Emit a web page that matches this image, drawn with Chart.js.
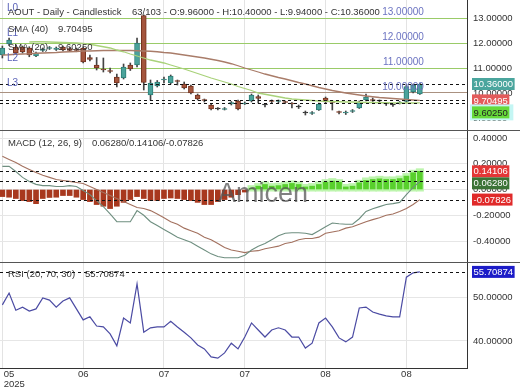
<!DOCTYPE html>
<html>
<head>
<meta charset="utf-8">
<title>AOUT - Daily - Candlestick</title>
<script src="https://cdn.jsdelivr.net/npm/chart.js@4.4.1/dist/chart.umd.min.js"></script>
<style>
  html, body { margin: 0; padding: 0; background: #fff; }
  #wrap { position: relative; width: 520px; height: 390px; overflow: hidden; }
  .panel { position: absolute; left: 0; width: 520px; }
  #pricePanel { top: 0; height: 130px; border-bottom: 1px solid #555; }
  #macdPanel { top: 131px; height: 131px; border-bottom: 1px solid #555; }
  #rsiPanel { top: 263px; height: 127px; }
</style>
</head>
<body>
<div id="wrap">
  <div class="panel" id="pricePanel"><canvas id="priceChart"></canvas></div>
  <div class="panel" id="macdPanel"><canvas id="macdChart"></canvas></div>
  <div class="panel" id="rsiPanel"><canvas id="rsiChart"></canvas></div>
</div>
<script>
// daily candles (63 of 103 bars)
const candleOpen = [11.52, 11.96, 11.84, 11.84, 11.80, 11.48, 11.70, 11.78, 11.74, 11.84,
  11.78, 11.72, 11.80, 11.42, 11.12, 10.96, 10.88, 10.64, 10.60, 11.12,
  11.12, 13.10, 9.92, 10.28, 10.52, 10.40, 10.48, 10.36, 10.28, 9.92,
  9.72, 9.52, 9.36, 9.34, 9.56, 9.68, 9.56, 9.68, 9.86, 9.52,
  9.68, 9.66, 9.64, 9.58, 9.44, 9.20, 9.18, 9.32, 9.80, 9.64,
  9.24, 9.20, 9.26, 9.40, 9.72, 9.74, 9.68, 9.56, 9.52, 9.60,
  9.66, 10.04, 9.96];
const candleHigh = [11.88, 12.20, 11.90, 11.88, 11.85, 11.64, 11.80, 11.86, 11.84, 11.88,
  11.82, 11.80, 11.84, 11.52, 11.42, 11.40, 11.00, 10.76, 11.16, 11.20,
  12.20, 13.12, 10.52, 10.50, 10.64, 10.72, 10.52, 10.44, 10.32, 9.96,
  9.76, 9.56, 9.42, 9.42, 9.66, 9.72, 9.64, 9.96, 9.92, 9.58,
  9.72, 9.72, 9.68, 9.62, 9.52, 9.28, 9.26, 9.60, 9.84, 9.70,
  9.28, 9.28, 9.34, 9.68, 9.96, 9.80, 9.72, 9.62, 9.56, 9.66,
  10.34, 10.36, 10.40];
const candleLow = [11.40, 11.90, 11.55, 11.60, 11.45, 11.45, 11.66, 11.74, 11.70, 11.68,
  11.66, 11.65, 11.20, 11.28, 10.92, 10.84, 10.80, 10.24, 10.56, 10.90,
  11.04, 10.12, 9.72, 10.24, 10.40, 10.36, 10.32, 10.16, 9.96, 9.72,
  9.64, 9.32, 9.32, 9.32, 9.52, 9.32, 9.54, 9.64, 9.60, 9.44,
  9.60, 9.60, 9.58, 9.40, 9.38, 9.12, 9.14, 9.30, 9.60, 9.32,
  9.16, 9.14, 9.22, 9.38, 9.68, 9.66, 9.60, 9.50, 9.46, 9.56,
  9.62, 10.00, 9.94];
const candleClose = [11.80, 12.12, 11.60, 11.64, 11.52, 11.60, 11.76, 11.82, 11.80, 11.72,
  11.70, 11.70, 11.24, 11.34, 11.00, 10.92, 10.86, 10.40, 11.04, 10.96,
  12.00, 10.42, 10.40, 10.44, 10.54, 10.68, 10.46, 10.20, 10.00, 9.76,
  9.70, 9.36, 9.36, 9.36, 9.62, 9.36, 9.60, 9.92, 9.78, 9.52,
  9.66, 9.68, 9.62, 9.56, 9.44, 9.20, 9.20, 9.56, 9.64, 9.62,
  9.22, 9.22, 9.30, 9.64, 9.84, 9.70, 9.68, 9.56, 9.52, 9.64,
  10.26, 10.32, 10.36];
const barTotal = 103;

const sma40 = [11.52, 11.53, 11.55, 11.56, 11.57, 11.59, 11.60, 11.61, 11.62, 11.64,
  11.65, 11.66, 11.68, 11.68, 11.69, 11.70, 11.70, 11.70, 11.70, 11.70,
  11.69, 11.68, 11.67, 11.65, 11.62, 11.60, 11.56, 11.52, 11.48, 11.44,
  11.40, 11.35, 11.30, 11.24, 11.17, 11.09, 11.00, 10.92, 10.84, 10.76,
  10.69, 10.62, 10.56, 10.49, 10.42, 10.36, 10.29, 10.22, 10.16, 10.10,
  10.05, 10.00, 9.96, 9.92, 9.88, 9.85, 9.82, 9.80, 9.78, 9.76,
  9.74, 9.72, 9.70495];
const sma20 = [null, null, null, null, 12.04, 12.05, 12.05, 12.04, 12.03, 12.02,
  12.01, 12.00, 11.98, 11.95, 11.90, 11.85, 11.80, 11.72, 11.65, 11.56,
  11.48, 11.40, 11.32, 11.26, 11.20, 11.12, 11.04, 10.96, 10.87, 10.78,
  10.69, 10.60, 10.52, 10.44, 10.36, 10.26, 10.18, 10.10, 10.00, 9.95,
  9.90, 9.85, 9.80, 9.76, 9.74, 9.72, 9.70, 9.68, 9.67, 9.66,
  9.65, 9.64, 9.64, 9.63, 9.62, 9.62, 9.61, 9.61, 9.60, 9.60,
  9.60, 9.60, 9.6025];

const macdLine = [0.18, 0.18, 0.14, 0.094, 0.063, 0.04, 0.03, 0.03, 0.023, 0.023,
  0.03, 0.023, -0.008, -0.04, -0.086, -0.133, -0.19, -0.25, -0.25, -0.25,
  -0.164, -0.20, -0.25, -0.28, -0.31, -0.34, -0.37, -0.39, -0.41, -0.44,
  -0.47, -0.50, -0.52, -0.53, -0.53, -0.53, -0.51, -0.47, -0.44, -0.42,
  -0.39, -0.36, -0.34, -0.336, -0.336, -0.34, -0.35, -0.32, -0.29, -0.26,
  -0.266, -0.27, -0.27, -0.227, -0.17, -0.15, -0.133, -0.117, -0.11, -0.10,
  -0.04, 0.016, 0.0628];
const macdSignal = [0.258, 0.234, 0.21, 0.18, 0.156, 0.133, 0.11, 0.094, 0.078, 0.07,
  0.063, 0.055, 0.047, 0.023, 0.0, -0.023, -0.047, -0.07, -0.094, -0.117,
  -0.14, -0.148, -0.164, -0.19, -0.22, -0.25, -0.27, -0.30, -0.32, -0.34,
  -0.37, -0.39, -0.42, -0.45, -0.47, -0.48, -0.49, -0.48, -0.475, -0.46,
  -0.45, -0.44, -0.42, -0.41, -0.39, -0.38, -0.38, -0.37, -0.34, -0.33,
  -0.32, -0.30, -0.29, -0.27, -0.25, -0.234, -0.22, -0.20, -0.19, -0.17,
  -0.148, -0.117, -0.07826];
const macdHist = [-0.055, -0.06, -0.07, -0.086, -0.094, -0.11, -0.07, -0.062, -0.06, -0.047,
  -0.047, -0.06, -0.078, -0.094, -0.117, -0.13, -0.148, -0.13, -0.10, -0.078,
  -0.055, -0.07, -0.086, -0.086, -0.07, -0.066, -0.07, -0.078, -0.086, -0.10,
  -0.117, -0.117, -0.094, -0.078, -0.06, -0.04, -0.02, 0.01, 0.026, 0.039,
  0.026, 0.030, 0.039, 0.047, 0.039, 0.020, 0.026, 0.039, 0.057, 0.065,
  0.057, 0.020, 0.026, 0.052, 0.070, 0.078, 0.083, 0.078, 0.078, 0.085,
  0.104, 0.130, 0.14106];

const rsi20 = [48.2, 50.9, 47.0, 47.7, 46.8, 47.3, 49.8, 49.3, 47.7, 49.1,
  49.8, 47.3, 44.8, 45.5, 43.4, 43.2, 41.6, 38.9, 45.2, 44.1,
  53.0, 42.0, 43.0, 43.2, 43.2, 44.5, 43.2, 42.0, 40.7, 39.1,
  38.2, 36.4, 36.1, 37.3, 39.5, 38.2, 40.9, 44.1, 42.5, 40.9,
  42.5, 43.0, 42.5, 40.9, 40.9, 38.4, 39.5, 44.1, 45.2, 43.2,
  40.7, 39.8, 40.9, 47.5, 47.7, 46.6, 46.1, 45.7, 45.5, 45.5,
  54.5, 55.5, 55.70874];

const xTickIdx = [0, 12, 24, 36, 48, 60];
const xTickLabels = ['05', '06', '07', '07', '08', '08'];
const xTickYear = '2025';

const priceLevels = [13, 12, 11, 10];
const priceLevelTags = ['L0', 'L1', 'L2', 'L3'];
const watermark = 'Amicen';

const FONT = '"Liberation Sans", Arial, sans-serif';
Chart.defaults.font.family = FONT;
Chart.defaults.animation = false;

const last = candleOpen.length - 1;
const fmt = v => Number(v).toFixed(5);
const xy = arr => arr.map((v, i) => ({ x: i, y: v }));

function candleColor(i, up, down, flat) {
  if (candleClose[i] > candleOpen[i]) return up;
  if (candleClose[i] < candleOpen[i]) return down;
  return flat;
}

function xAxis(withLabels) {
  return {
    type: 'linear', min: -0.35, max: 69, offset: false,
    afterBuildTicks: axis => { axis.ticks = xTickIdx.map(v => ({ value: v })); },
    grid: { color: '#e3e3e3', drawTicks: false, offset: false },
    border: { display: withLabels, color: '#333' },
    ticks: {
      display: withLabels, padding: 1, color: '#333', maxRotation: 0, autoSkip: false,
      font: { size: 9.5, lineHeight: 1.1 },
      callback: v => {
        const k = xTickIdx.indexOf(v);
        if (k < 0) return null;
        // first label hugs the left edge
        if (k === 0) return ['     ' + xTickLabels[0], '         ' + xTickYear];
        return xTickLabels[k];
      }
    },
    afterFit: s => { s.paddingLeft = 0; s.paddingRight = 0; s.height = withLabels ? 22 : 0; }
  };
}

function yAxis(min, max, step, gridColor) {
  return {
    position: 'right', min, max,
    ticks: { stepSize: step, includeBounds: false, padding: 6, color: '#333', font: { size: 9.5 }, callback: v => fmt(v) },
    grid: { color: gridColor, drawTicks: false },
    border: { color: '#333' },
    afterFit: s => { s.width = 53; s.paddingTop = 0; s.paddingBottom = 0; }
  };
}

function baseOptions(xs, ys) {
  return {
    responsive: true, maintainAspectRatio: false, animation: false,
    layout: { padding: 0 },
    plugins: { legend: { display: false }, tooltip: { enabled: false } },
    scales: { x: xs, y: ys }
  };
}

function dashedLines(chart, values) {
  const { ctx, chartArea: a } = chart, y = chart.scales.y;
  ctx.save();
  ctx.setLineDash([3, 3]);
  ctx.strokeStyle = '#111';
  ctx.lineWidth = 1;
  values.forEach(v => {
    const py = Math.round(y.getPixelForValue(v)) + 0.5;
    ctx.beginPath(); ctx.moveTo(a.left, py); ctx.lineTo(a.right, py); ctx.stroke();
  });
  ctx.restore();
}

function valueBoxes(chart, boxes) {
  const { ctx, chartArea: a } = chart, y = chart.scales.y;
  ctx.save();
  ctx.font = '9.5px ' + FONT;
  ctx.textBaseline = 'middle';
  ctx.textAlign = 'left';
  let prevBottom = -Infinity;
  boxes.map(b => ({ ...b, py: y.getPixelForValue(b.value) }))
    .sort((p, q) => p.py - q.py)
    .forEach(b => {
      const top = Math.max(b.py - 6, prevBottom);
      const text = fmt(b.value);
      const w = ctx.measureText(text).width + 3;
      if (b.halo) { ctx.fillStyle = b.halo; ctx.fillRect(a.right + 3, top - 2, w + 6, 16); }
      ctx.fillStyle = b.bg;
      ctx.fillRect(a.right + 5, top, w, 12);
      ctx.fillStyle = b.fg;
      ctx.fillText(text, a.right + 6.5, top + 6.5);
      prevBottom = top + 12;
    });
  ctx.restore();
}

function legendLine(ctx, label, value, x, y) {
  ctx.fillText(label, x, y);
  ctx.fillText(value, x + ctx.measureText(label).width + 10, y);
}

/* === PRICE PANEL === */
const pricePlugin = {
  id: 'priceOverlay',
  afterDraw(chart) {
    const { ctx, chartArea: a } = chart, x = chart.scales.x, y = chart.scales.y;
    dashedLines(chart, [candleClose[last], sma40[last], sma20[last]]);
    ctx.save();
    ctx.textBaseline = 'middle';
    ctx.font = '10px ' + FONT;
    priceLevels.forEach((v, k) => {
      const py = y.getPixelForValue(v);
      ctx.textAlign = 'right';
      ctx.fillStyle = '#6b73c1';
      ctx.fillText(fmt(v), x.getPixelForValue(62.6), py - 6);
      ctx.textAlign = 'left';
      ctx.fillStyle = '#5a62b8';
      ctx.fillText(priceLevelTags[k], a.left + 7, py - 10);
    });
    ctx.fillStyle = '#333';
    ctx.font = '9.5px ' + FONT;
    const title = 'AOUT - Daily - Candlestick    ' + candleOpen.length + '/' + barTotal +
      ' - O:' + fmt(candleOpen[last]) + ' - H:' + fmt(candleHigh[last]) +
      ' - L:' + fmt(candleLow[last]) + ' - C:' + fmt(candleClose[last]);
    ctx.fillText(title, 8, 12);
    legendLine(ctx, 'SMA (40)', fmt(sma40[last]), 8, 29);
    legendLine(ctx, 'SMA (20)', fmt(sma20[last]), 8, 47);
    ctx.restore();
    valueBoxes(chart, [
      { value: candleClose[last], bg: '#4aa59d', fg: '#fff' },
      { value: sma40[last], bg: '#e35b5b', fg: '#fff' },
      { value: sma20[last], bg: '#66d93a', fg: '#222', halo: '#c4f6f4' }
    ]);
  }
};

const priceGrid = c => {
  const v = c.tick.value;
  if (v === 10) return '#aa9180';
  return priceLevels.includes(v) ? '#9acb68' : 'rgba(0,0,0,0)';
};

new Chart(document.getElementById('priceChart'), {
  type: 'bar',
  data: {
    datasets: [
      { type: 'line', data: xy(sma20), borderColor: '#a9d27a', borderWidth: 1.3, pointRadius: 0 },
      { type: 'line', data: xy(sma40), borderColor: '#a97c69', borderWidth: 1.3, pointRadius: 0 },
      {
        data: candleOpen.map((o, i) => ({ x: i, y: [o, candleClose[i]] })),
        grouped: false, barThickness: 5, minBarLength: 1, borderWidth: 1, borderSkipped: false,
        backgroundColor: candleOpen.map((o, i) => candleColor(i, '#4aa39b', '#a4553d', '#333')),
        borderColor: candleOpen.map((o, i) => candleColor(i, '#2e7d76', '#74331f', '#333'))
      },
      {
        data: candleLow.map((l, i) => ({ x: i, y: [l, candleHigh[i]] })),
        grouped: false, barThickness: 1, backgroundColor: '#444'
      }
    ]
  },
  options: baseOptions(xAxis(false), yAxis(8.52, 13.72, 1, priceGrid)),
  plugins: [pricePlugin]
});

/* === MACD PANEL === */
const macdPlugin = {
  id: 'macdOverlay',
  beforeDatasetsDraw(chart) {
    // soft glow behind the positive bars
    const { ctx } = chart, x = chart.scales.x, y = chart.scales.y;
    ctx.save();
    ctx.fillStyle = '#bdf5ad';
    macdHist.forEach((v, i) => {
      if (v <= 0) return;
      const px = x.getPixelForValue(i);
      const top = y.getPixelForValue(v) - 3;
      ctx.fillRect(px - 4, top, 8, y.getPixelForValue(0) + 2 - top);
    });
    ctx.restore();
  },
  afterDraw(chart) {
    const { ctx, chartArea: a } = chart;
    dashedLines(chart, [macdHist[last], macdLine[last], macdSignal[last]]);
    ctx.save();
    ctx.textBaseline = 'alphabetic';
    ctx.font = '27px ' + FONT;
    ctx.fillStyle = 'rgba(85,85,85,0.75)';
    ctx.fillText(watermark, a.left + 218, 71);
    ctx.textBaseline = 'middle';
    ctx.font = '9.5px ' + FONT;
    ctx.fillStyle = '#333';
    legendLine(ctx, 'MACD (12, 26, 9)',
      fmt(macdLine[last]) + '/' + fmt(macdHist[last]) + '/' + fmt(macdSignal[last]), 8, 12);
    ctx.restore();
    valueBoxes(chart, [
      { value: macdHist[last], bg: '#e33636', fg: '#fff' },
      { value: macdLine[last], bg: '#3b7336', fg: '#fff' },
      { value: macdSignal[last], bg: '#e02a2a', fg: '#fff' }
    ]);
  }
};

new Chart(document.getElementById('macdChart'), {
  type: 'bar',
  data: {
    datasets: [
      { type: 'line', data: xy(macdLine), borderColor: '#6f8f80', borderWidth: 1.1, pointRadius: 0 },
      { type: 'line', data: xy(macdSignal), borderColor: '#a3715f', borderWidth: 1.1, pointRadius: 0 },
      {
        data: xy(macdHist), grouped: false, barThickness: 5,
        backgroundColor: macdHist.map(v => v >= 0 ? '#58d02c' : '#a8381e')
      }
    ]
  },
  options: baseOptions(xAxis(false), yAxis(-0.5631, 0.4544, 0.2, '#e6e6e6')),
  plugins: [macdPlugin]
});

/* === RSI PANEL === */
const rsiPlugin = {
  id: 'rsiOverlay',
  afterDraw(chart) {
    const { ctx } = chart;
    dashedLines(chart, [rsi20[last]]);
    ctx.save();
    ctx.textBaseline = 'middle';
    ctx.font = '9.5px ' + FONT;
    ctx.fillStyle = '#333';
    legendLine(ctx, 'RSI (20; 70; 30)', fmt(rsi20[last]), 8, 11);
    ctx.restore();
    valueBoxes(chart, [{ value: rsi20[last], bg: '#1c1cc8', fg: '#fff' }]);
  }
};

new Chart(document.getElementById('rsiChart'), {
  type: 'line',
  data: {
    datasets: [
      { data: xy(rsi20), borderColor: '#4b4ba3', borderWidth: 1.2, pointRadius: 0 }
    ]
  },
  options: baseOptions(xAxis(true), yAxis(33.86, 57.73, 10, '#e6e6e6')),
  plugins: [rsiPlugin]
});
</script>
</body>
</html>
